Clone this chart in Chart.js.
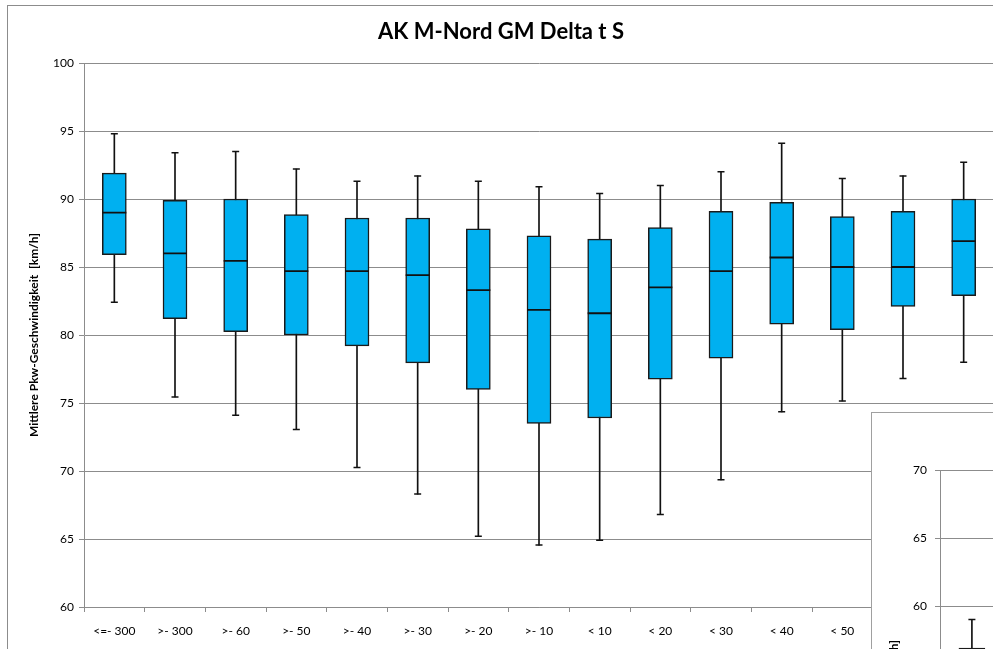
<!DOCTYPE html>
<html>
<head>
<meta charset="utf-8">
<script src="https://cdn.jsdelivr.net/npm/chart.js@4.4.1/dist/chart.umd.min.js"></script>
<style>
  html, body { margin: 0; padding: 0; background: #fff; }
  body { width: 993px; height: 649px; overflow: hidden; position: relative; }
  #frame { position: absolute; left: 7px; top: 5px; width: 1000px; height: 660px; border: 1px solid #8c8c8c; background: #fff; }
  #inset { position: absolute; left: 871px; top: 412px; width: 1040px; height: 660px; border-left: 1px solid #a0a0a0; border-top: 1px solid #a0a0a0; background: #fff; overflow: hidden; }
  canvas { display: block; }
</style>
</head>
<body>
<div id="frame"><canvas id="mainChart" width="1000" height="660"></canvas></div>
<div id="inset"><canvas id="insetChart" width="1040" height="660"></canvas></div>
<script>
// categories (Delta t classes)
const categories = ['<=- 300', '>- 300', '>- 60', '>- 50', '>- 40', '>- 30', '>- 20', '>- 10', '< 10', '< 20', '< 30', '< 40', '< 50', '< 60', '< 300'];

// box plot values per category, km/h
const whiskerMax = [94.8, 93.4, 93.5, 92.2, 91.3, 91.7, 91.3, 90.9, 90.4, 91.0, 92.0, 94.1, 91.5, 91.7, 92.7];
const q3Values   = [91.9, 89.9, 90.0, 88.85, 88.6, 88.6, 87.8, 87.3, 87.05, 87.9, 89.1, 89.75, 88.7, 89.1, 90.0];
const medians    = [89.0, 86.0, 85.45, 84.7, 84.7, 84.4, 83.3, 81.85, 81.6, 83.5, 84.7, 85.7, 85.0, 85.0, 86.9];
const q1Values   = [85.9, 81.2, 80.25, 80.0, 79.2, 77.95, 76.0, 73.5, 73.9, 76.75, 78.3, 80.8, 80.4, 82.1, 82.9];
const whiskerMin = [82.4, 75.45, 74.1, 73.05, 70.25, 68.3, 65.2, 64.55, 64.9, 66.8, 69.35, 74.35, 75.15, 76.8, 78.0];

// second (overlapping) chart, only its first box is in view
const insetWhiskerMax = [59.0];
const insetQ3 = [56.9];
const insetMedian = [54.5];
const insetQ1 = [52.0];
const insetWhiskerMin = [48.0];

const yTicks = [60, 65, 70, 75, 80, 85, 90, 95, 100];

const gridColor = '#8c8c8c';
const boxColor = '#00b0f0';
const fontFamily = 'Lato, "Open Sans", sans-serif';

function boxDatasets(maxArr, q3Arr, medArr, q1Arr, minArr, boxWidth) {
  return [
    {
      type: 'bar',
      data: minArr.map((v, i) => [v, maxArr[i]]),
      backgroundColor: '#111',
      borderWidth: 0,
      barThickness: 1,
      grouped: false,
      order: 4
    },
    {
      type: 'bar',
      data: q1Arr.map((v, i) => [v, q3Arr[i]]),
      backgroundColor: boxColor,
      borderColor: '#1a1a1a',
      borderWidth: 1.5,
      borderSkipped: false,
      barThickness: boxWidth,
      grouped: false,
      order: 3
    },
    {
      type: 'line',
      data: maxArr,
      showLine: false,
      pointStyle: 'line',
      pointRadius: 3.5,
      pointBorderWidth: 1.5,
      pointBorderColor: '#111',
      order: 2
    },
    {
      type: 'line',
      data: minArr,
      showLine: false,
      pointStyle: 'line',
      pointRadius: 3.5,
      pointBorderWidth: 1.5,
      pointBorderColor: '#111',
      order: 2
    },
    {
      type: 'line',
      data: medArr,
      showLine: false,
      pointStyle: 'line',
      pointRadius: boxWidth / 2,
      pointBorderWidth: 1.8,
      pointBorderColor: '#111',
      order: 1
    }
  ];
}

// main chart
new Chart(document.getElementById('mainChart'), {
  type: 'bar',
  data: {
    labels: categories,
    datasets: boxDatasets(whiskerMax, q3Values, medians, q1Values, whiskerMin, 24)
  },
  options: {
    responsive: false,
    animation: false,
    layout: { padding: { left: 0, right: 14, top: 0, bottom: 0 } },
    plugins: {
      legend: { display: false },
      tooltip: { enabled: false },
      title: {
        display: true,
        text: 'AK M-Nord GM Delta t S',
        color: '#000',
        font: { family: fontFamily, size: 22, weight: 'bold', lineHeight: 1.2 },
        padding: { top: 13, bottom: 17.6 }
      }
    },
    scales: {
      x: {
        offset: true,
        afterFit: (scale) => { scale.height = 59; },
        grid: { drawOnChartArea: false, drawTicks: true, tickLength: 5, color: gridColor, offset: true },
        border: { color: gridColor },
        ticks: { color: '#000', autoSkip: false, maxRotation: 0, padding: 12, font: { family: fontFamily, size: 12 } }
      },
      y: {
        min: 60,
        max: 100,
        afterFit: (scale) => { scale.width = 76; },
        afterBuildTicks: (scale) => { scale.ticks = yTicks.map(v => ({ value: v })); },
        grid: { color: gridColor, tickLength: 5 },
        border: { color: gridColor },
        ticks: { color: '#000', padding: 5, font: { family: fontFamily, size: 12 } },
        title: {
          display: true,
          text: 'Mittlere Pkw-Geschwindigkeit  [km/h]',
          color: '#000',
          font: { family: fontFamily, size: 12, weight: 'bold', lineHeight: 1.2 },
          padding: { top: 19, bottom: 0 }
        }
      }
    }
  }
});

// inset chart (second chart lying over the bottom right corner)
new Chart(document.getElementById('insetChart'), {
  type: 'bar',
  data: {
    labels: categories,
    datasets: boxDatasets(insetWhiskerMax, insetQ3, insetMedian, insetQ1, insetWhiskerMin, 26)
  },
  options: {
    responsive: false,
    animation: false,
    layout: { padding: { left: 0, right: 12, top: 57, bottom: 0 } },
    plugins: {
      legend: { display: false },
      tooltip: { enabled: false },
      title: { display: false }
    },
    scales: {
      x: {
        offset: true,
        afterFit: (scale) => { scale.height = 59; },
        grid: { drawOnChartArea: false, drawTicks: true, tickLength: 5, color: gridColor, offset: true },
        border: { color: gridColor },
        ticks: { color: '#000', autoSkip: false, maxRotation: 0, padding: 12, font: { family: fontFamily, size: 12 } }
      },
      y: {
        min: 30,
        max: 70,
        afterFit: (scale) => { scale.width = 68; },
        ticks: { color: '#000', stepSize: 5, padding: 8, font: { family: fontFamily, size: 12 } },
        grid: { color: gridColor, tickLength: 5 },
        border: { color: gridColor },
        title: {
          display: true,
          text: 'Mittlere Pkw-Geschwindigkeit  [km/h]',
          color: '#000',
          font: { family: fontFamily, size: 12, weight: 'bold', lineHeight: 1.2 },
          padding: { top: 15, bottom: 0 }
        }
      }
    }
  }
});
</script>
</body>
</html>
